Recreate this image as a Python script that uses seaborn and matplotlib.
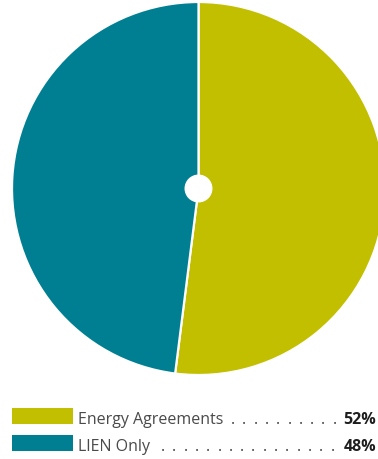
import matplotlib
matplotlib.use("Agg")
import matplotlib.pyplot as plt
import seaborn as sns
from matplotlib.patches import Rectangle, Circle

# Share of projects by financing type
categories = ["Energy Agreements", "LIEN Only"]
shares = [52, 48]
colors = ["#C2BF00", "#007F93"]

sns.set_theme(style="white")
plt.rcParams["font.family"] = ["Open Sans", "DejaVu Sans"]

W, H = 378, 459
fig = plt.figure(figsize=(W / 100, H / 100), dpi=100)
fig.patch.set_facecolor("white")

# Pie axes in pixel units (left, bottom, size)
px0, py0, size = 12, 84, 373
ax = fig.add_axes([px0 / W, py0 / H, size / W, size / H])
ax.pie(
    shares,
    colors=colors,
    startangle=90,
    counterclock=False,
    radius=1.0,
    wedgeprops=dict(edgecolor="white", linewidth=1.6),
)
ax.add_patch(Circle((0, 0), 0.075, facecolor="white", edgecolor="none", zorder=5))
ax.set_xlim(-1.0, 1.0)
ax.set_ylim(-1.0, 1.0)
ax.set_aspect("equal")
ax.axis("off")

# Legend with dot leaders
rows_base = [424, 451]   # text baselines in pixels from top
box_top = [408, 435]
leaders = [(233, 335), (163, 335)]
for cat, val, col, yb, yt, (x0, x1) in zip(categories, shares, colors,
                                           rows_base, box_top, leaders):
    fig.patches.append(Rectangle((12 / W, (H - yt - 16) / H), 61 / W, 16 / H,
                                 transform=fig.transFigure, facecolor=col,
                                 edgecolor="none"))
    fig.text(78 / W, (H - yb) / H, cat, ha="left", va="baseline",
             fontsize=11.5, color="#4a4a4a")
    fig.text(376 / W, (H - yb) / H, f"{val}%", ha="right", va="baseline",
             fontsize=11.5, color="#1e1e1e", fontweight="bold")
    x = x0
    while x <= x1 + 0.5:
        fig.text(x / W, (H - yb) / H, ".", ha="center", va="baseline",
                 fontsize=11.5, color="#4a4a4a")
        x += 11.3

fig.savefig("out.png", dpi=100, facecolor="white")
